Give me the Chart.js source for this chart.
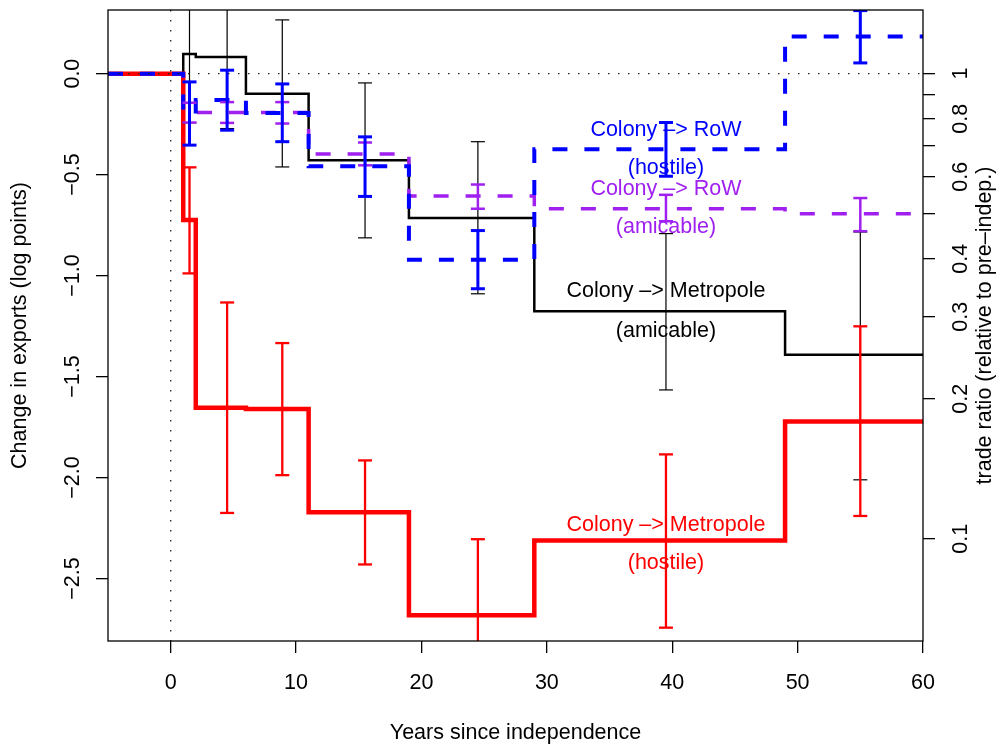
<!DOCTYPE html>
<html>
<head>
    <title>Exports after independence</title>
    <script src="https://cdn.jsdelivr.net/npm/chart.js@4.4.0/dist/chart.umd.min.js"></script>
    <style>
        body { margin: 0; background: #fff; }
    </style>
</head>
<body>
    <canvas id="myChart" width="1002" height="749"></canvas>
    <script>
        // step breaks (years since independence) and one value per interval
        var stepYears = [-5, 1, 2, 6, 11, 19, 29, 49, 60];
        var metroAmicable = [0, 0.097, 0.082, -0.100, -0.429, -0.715, -1.177, -1.392];
        var metroHostile = [0, -0.725, -1.654, -1.661, -2.172, -2.682, -2.312, -1.722];
        var rowHostile = [0, -0.198, -0.131, -0.195, -0.459, -0.921, -0.374, 0.184];
        var rowAmicable = [0, -0.193, -0.193, -0.193, -0.398, -0.606, -0.669, -0.694];

        // confidence intervals
        var errYears = [1.5, 4.5, 8.9, 15.5, 24.5, 39.5, 55];
        var metroAmicableLo = [-0.243, -0.272, -0.462, -0.813, -1.090, -1.566, -2.011];
        var metroAmicableHi = [0.437, 0.436, 0.266, -0.046, -0.337, -0.792, -0.784];
        var metroHostileLo = [-0.989, -2.175, -1.988, -2.430, -3.060, -2.743, -2.190];
        var metroHostileHi = [-0.464, -1.133, -1.334, -1.915, -2.305, -1.885, -1.251];
        var rowHostileLo = [-0.354, -0.280, -0.337, -0.608, -1.065, -0.508, 0.053];
        var rowHostileHi = [-0.041, 0.017, -0.051, -0.313, -0.777, -0.242, 0.312];
        var rowAmicableLo = [-0.242, -0.244, -0.247, -0.454, -0.669, -0.731, -0.780];
        var rowAmicableHi = [-0.144, -0.141, -0.141, -0.341, -0.549, -0.600, -0.616];

        // axes
        var xTicks = [0, 10, 20, 30, 40, 50, 60];
        var yTicks = [-2.5, -2, -1.5, -1, -0.5, 0];
        var yTickLabels = ['\u22122.5', '\u22122.0', '\u22121.5', '\u22121.0', '\u22120.5', '0.0'];
        var ratioTicks = [0.1, 0.2, 0.3, 0.4, 0.5, 0.6, 0.7, 0.8, 0.9, 1];
        var ratioLabels = ['0.1', '0.2', '0.3', '0.4', '', '0.6', '', '0.8', '', '1'];

        // series labels written in the plot
        var noteText = ['Colony \u2013> RoW', '(hostile)', 'Colony \u2013> RoW', '(amicable)',
            'Colony \u2013> Metropole', '(amicable)', 'Colony \u2013> Metropole', '(hostile)'];
        var noteSeries = [2, 2, 3, 3, 0, 0, 1, 1];
        var noteYear = 39.5;
        var noteValue = [-0.280, -0.467, -0.571, -0.759, -1.079, -1.274, -2.233, -2.424];

        var colors = ['#000000', '#ff0000', '#0000ff', '#a020f0'];
        var FONT = "'Liberation Sans', Arial, sans-serif";
        var FSIZE = 21.5;

        function stepPoints(vals) {
            return stepYears.map(function (yr, i) {
                return { x: yr, y: vals[Math.min(i, vals.length - 1)] };
            });
        }

        function barPoints(lo, hi) {
            var pts = [];
            for (var i = 0; i < errYears.length; i++) {
                pts.push({ x: errYears[i], y: lo[i] });
                pts.push({ x: errYears[i], y: hi[i] });
                pts.push({ x: errYears[i], y: null });
            }
            return pts;
        }

        function stepSet(vals, color, width, dash, order) {
            return {
                data: stepPoints(vals),
                stepped: 'before',
                borderColor: color,
                borderWidth: width,
                borderDash: dash,
                borderCapStyle: 'butt',
                borderJoinStyle: 'miter',
                pointRadius: 0,
                fill: false,
                order: order
            };
        }

        function barSet(lo, hi, color, width, order) {
            return {
                data: barPoints(lo, hi),
                borderColor: color,
                borderWidth: width,
                pointStyle: 'line',
                pointRadius: 7,
                pointBorderWidth: width,
                pointBorderColor: color,
                fill: false,
                spanGaps: false,
                order: order
            };
        }

        // no extra room for labels at the axis ends
        function noPad(s) {
            s.paddingTop = 0;
            s.paddingBottom = 0;
            s.paddingLeft = 0;
            s.paddingRight = 0;
        }

        var extras = {
            id: 'extras',
            afterDatasetsDraw: function (chart) {
                var ctx = chart.ctx, a = chart.chartArea;
                var xs = chart.scales.x, ys = chart.scales.y;
                ctx.save();
                // dotted zero lines
                ctx.setLineDash([1.5, 8.5]);
                ctx.lineWidth = 1.3;
                ctx.strokeStyle = '#222';
                var y0 = ys.getPixelForValue(0), x0 = xs.getPixelForValue(0);
                ctx.beginPath();
                ctx.moveTo(a.left, y0); ctx.lineTo(a.right, y0);
                ctx.moveTo(x0, a.top); ctx.lineTo(x0, a.bottom);
                ctx.stroke();
                ctx.setLineDash([]);
                // box
                ctx.lineWidth = 1.3;
                ctx.strokeStyle = '#000';
                ctx.strokeRect(a.left, a.top, a.right - a.left, a.bottom - a.top);
                // notes
                ctx.font = FSIZE + 'px ' + FONT;
                ctx.textAlign = 'center';
                ctx.textBaseline = 'middle';
                for (var i = 0; i < noteText.length; i++) {
                    ctx.fillStyle = colors[noteSeries[i]];
                    ctx.fillText(noteText[i], xs.getPixelForValue(noteYear), ys.getPixelForValue(noteValue[i]));
                }
                // right axis title
                ctx.fillStyle = '#000';
                ctx.translate(985, (a.top + a.bottom) / 2);
                ctx.rotate(-Math.PI / 2);
                ctx.fillText('trade ratio (relative to pre\u2013indep.)', 0, 0);
                ctx.restore();
            }
        };

        var tickFont = { family: FONT, size: FSIZE };

        var ctx = document.getElementById('myChart').getContext('2d');
        var chart = new Chart(ctx, {
            type: 'line',
            data: {
                datasets: [
                    stepSet(metroAmicable, colors[0], 2.5, [], 7),
                    stepSet(metroHostile, colors[1], 4.5, [], 6),
                    stepSet(rowAmicable, colors[3], 3.5, [15, 17], 5),
                    stepSet(rowHostile, colors[2], 4, [15, 17], 4),
                    barSet(metroAmicableLo, metroAmicableHi, colors[0], 1.2, 3),
                    barSet(metroHostileLo, metroHostileHi, colors[1], 2.3, 2),
                    barSet(rowAmicableLo, rowAmicableHi, colors[3], 2.5, 1),
                    barSet(rowHostileLo, rowHostileHi, colors[2], 3, 0)
                ]
            },
            options: {
                responsive: false,
                animation: false,
                events: [],
                layout: { padding: { top: 7, left: 0, right: 0, bottom: 0 } },
                plugins: { legend: { display: false }, tooltip: { enabled: false } },
                scales: {
                    x: {
                        type: 'linear', position: 'bottom', min: -5, max: 60,
                        afterBuildTicks: function (s) { s.ticks = xTicks.map(function (v) { return { value: v }; }); },
                        afterFit: function (s) { s.height = 108; noPad(s); },
                        grid: { drawOnChartArea: false, tickLength: 12, color: '#000', lineWidth: 1.3 },
                        border: { display: false },
                        ticks: { font: tickFont, color: '#000', padding: 17, maxRotation: 0, autoSkip: false },
                        title: { display: true, text: 'Years since independence', font: tickFont, color: '#000', padding: { top: 0, bottom: 3 } }
                    },
                    y: {
                        type: 'linear', position: 'left', min: -2.809, max: 0.315,
                        afterBuildTicks: function (s) { s.ticks = yTicks.map(function (v) { return { value: v }; }); },
                        afterFit: function (s) { s.width = 108; noPad(s); },
                        grid: { drawOnChartArea: false, tickLength: 12, color: '#000', lineWidth: 1.3 },
                        border: { display: false },
                        ticks: {
                            font: tickFont, color: '#000', padding: 2, minRotation: 90, maxRotation: 90,
                            crossAlign: 'center', autoSkip: false,
                            callback: function (v, i) { return yTickLabels[i]; }
                        },
                        title: { display: true, text: 'Change in exports (log points)', font: tickFont, color: '#000', padding: { top: 7, bottom: 0 } }
                    },
                    y2: {
                        type: 'linear', position: 'right', min: -2.809, max: 0.315,
                        afterBuildTicks: function (s) { s.ticks = ratioTicks.map(function (r) { return { value: Math.log(r) }; }); },
                        afterFit: function (s) { s.width = 79; noPad(s); },
                        grid: { drawOnChartArea: false, tickLength: 12, color: '#000', lineWidth: 1.3 },
                        border: { display: false },
                        ticks: {
                            font: tickFont, color: '#000', padding: 11, minRotation: 90, maxRotation: 90,
                            crossAlign: 'center', autoSkip: false,
                            callback: function (v, i) { return ratioLabels[i]; }
                        }
                    }
                }
            },
            plugins: [extras]
        });
    </script>
</body>
</html>
